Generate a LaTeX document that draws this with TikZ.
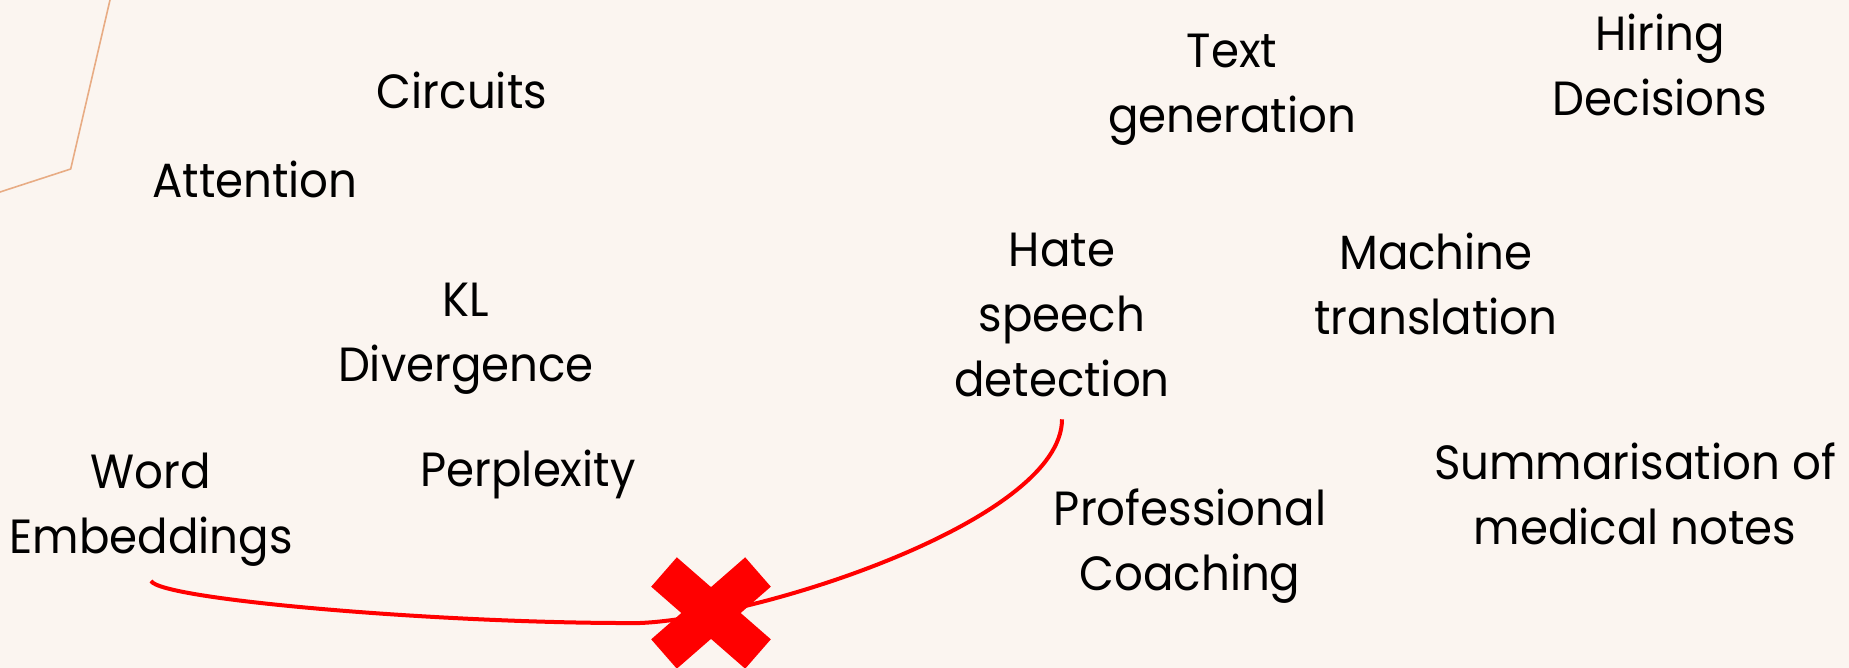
\documentclass[tikz,border=0pt]{standalone}
\usepackage{fontspec}
\setmainfont{Poppins}[FakeStretch=0.94]
\definecolor{bg}{HTML}{FBF5F0}
\definecolor{peach}{HTML}{E8AC84}
\definecolor{xred}{HTML}{FF0000}
\begin{document}
\begin{tikzpicture}[x=1pt,y=-1pt,
  lbl/.style={inner sep=0pt, align=center, anchor=north, text=black,
    font=\fontsize{48}{65}\selectfont},
  redline/.style={draw=xred, line width=4pt},
  crossbar/.style={draw=xred, line width=39pt, line cap=butt},
  thinline/.style={draw=peach, line width=1.6pt}]
\fill[bg] (0,0) rectangle (1849,668);
\useasboundingbox (0,0) rectangle (1849,668);
\draw[thinline] (110,0) -- (70.7,169) -- (0,192);
\node[lbl] (circ) at (462,72) {Circuits};
\node[lbl] (att) at (255,161) {Attention};
\node[lbl] (kl) at (466,283) {KL\\Divergence};
\node[lbl] (we) at (151,453) {Word\\Embeddings};
\node[lbl] (perp) at (528,450) {Perplexity};
\node[lbl] (tg) at (1232,34) {Text\\generation};
\node[lbl] (hire) at (1660,14) {Hiring\\Decisions};
\node[lbl] (hate) at (1062,233) {Hate\\speech\\detection};
\node[lbl] (mt) at (1436,233) {Machine\\translation};
\node[lbl] (coach) at (1190,489) {Professional\\Coaching};
\node[lbl] (summ) at (1635,443) {Summarisation of\\medical notes};
\draw[redline] ([yshift=-14pt]we.south) .. controls (160,600) and (450,624) .. (640,623)
  .. controls (760,618) and (1062,520) .. ([yshift=-22pt]hate.south);
\draw[crossbar] (664,572) -- (758,654);
\draw[crossbar] (758,572) -- (664,654);
\end{tikzpicture}
\end{document}
